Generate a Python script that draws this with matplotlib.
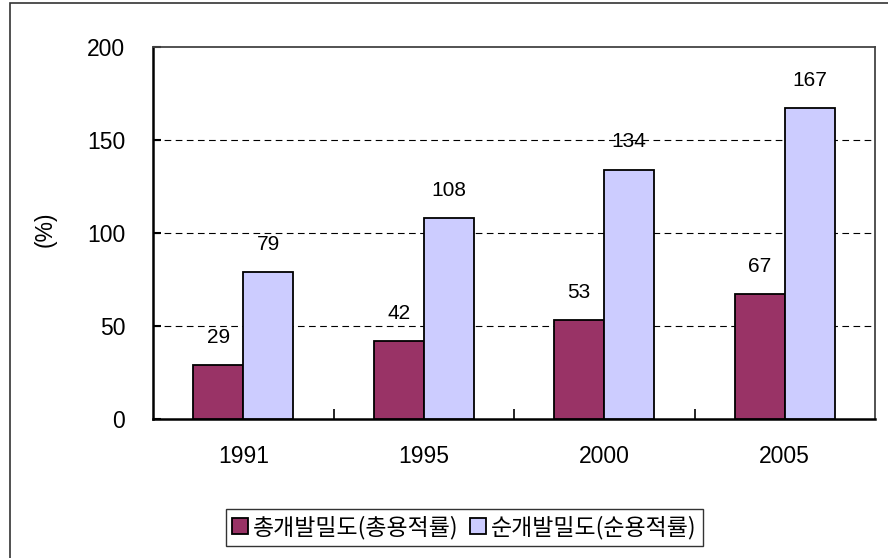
import matplotlib
matplotlib.use("Agg")
import matplotlib.pyplot as plt
from matplotlib.patches import Rectangle
import numpy as np

plt.rcParams['font.family'] = ['Liberation Sans', 'Noto Sans CJK KR', 'DejaVu Sans']

years = ["1991", "1995", "2000", "2005"]
gross = [29, 42, 53, 67]     # 총개발밀도(총용적률)
net = [79, 108, 134, 167]    # 순개발밀도(순용적률)
series_names = ["총개발밀도(총용적률)", "순개발밀도(순용적률)"]
yticks = [0, 50, 100, 150, 200]

fig = plt.figure(figsize=(8.88, 5.58), dpi=100)
ax = fig.add_axes([0.1723, 0.2491, 0.8131, 0.6667])

# outer frame of the chart object (right/bottom edges are cut off)
fig.patches.append(Rectangle((0.0113, -0.05), 1.2, 1.0446, transform=fig.transFigure,
                             fill=False, edgecolor="#333333", linewidth=1.2))

x = np.arange(len(years))
w = 0.277
b1 = ax.bar(x - w / 2, gross, w, color="#993366", edgecolor="black", linewidth=1.3,
            label=series_names[0], zorder=3)
b2 = ax.bar(x + w / 2, net, w, color="#CCCCFF", edgecolor="black", linewidth=1.3,
            label=series_names[1], zorder=3)

for bars, vals in [(b1, gross), (b2, net)]:
    for r, v in zip(bars, vals):
        ax.annotate(str(v), (r.get_x() + r.get_width() / 2, v), xytext=(0, 20),
                    textcoords="offset points", ha="center", va="center", fontsize=15)

ax.set_xlim(-0.5, len(years) - 0.5)
ax.set_ylim(0, 200)
ax.set_yticks(yticks)
ax.set_xticks(x)
ax.set_xticklabels(years)
ax.set_xticks(x[:-1] + 0.5, minor=True)
ax.tick_params(axis="x", which="major", length=0, pad=19, labelsize=16.5)
ax.tick_params(axis="x", which="minor", direction="in", length=7, width=1.2)
ax.tick_params(axis="y", direction="in", length=6, width=1.5, pad=20, labelsize=16.5)

for v in yticks[1:-1]:
    ax.axhline(v, color="black", linewidth=0.8, linestyle=(0, (6, 4)), zorder=1)

ax.spines["left"].set_linewidth(1.8)
ax.spines["bottom"].set_linewidth(1.8)
ax.spines["top"].set_color("#444444")
ax.spines["right"].set_color("#444444")
ax.spines["top"].set_linewidth(1.3)
ax.spines["right"].set_linewidth(1.3)

ax.set_ylabel("(%)", fontsize=16.5)
ax.yaxis.set_label_coords(-0.133, 0.51)

leg = fig.legend(handles=[b1, b2], loc="center", bbox_to_anchor=(0.523, 0.0547), ncol=2,
                 fancybox=False, edgecolor="#333333", framealpha=1,
                 handlelength=0.7, handleheight=0.7, handletextpad=0.2, columnspacing=0.5,
                 borderpad=0.3, prop={"family": ["Noto Sans CJK KR"], "size": 16.5})
leg.get_frame().set_linewidth(1.0)

fig.savefig("out.png", dpi=100)
